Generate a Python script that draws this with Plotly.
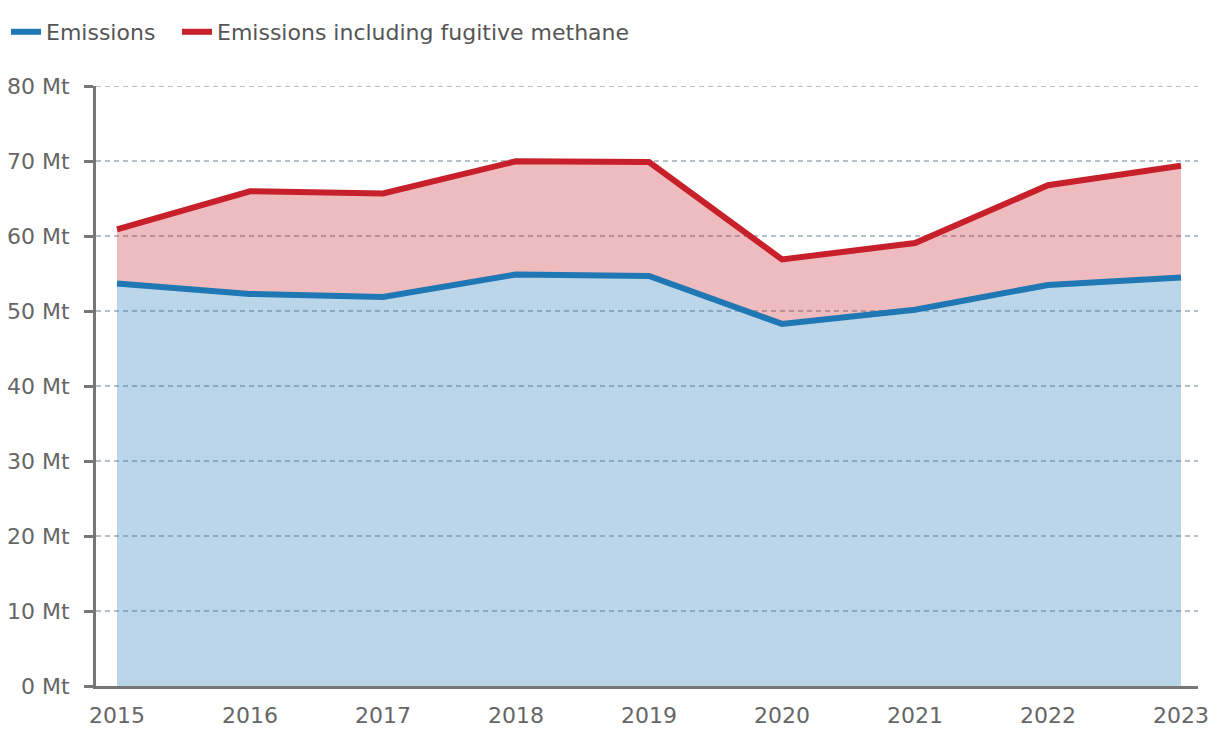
import plotly.graph_objects as go

years = [2015, 2016, 2017, 2018, 2019, 2020, 2021, 2022, 2023]
emissions = [53.7, 52.3, 51.9, 54.9, 54.7, 48.3, 50.2, 53.5, 54.5]
emissions_fugitive = [60.9, 66.0, 65.7, 70.0, 69.9, 56.9, 59.1, 66.8, 69.4]
y_ticks = [0, 10, 20, 30, 40, 50, 60, 70, 80]
y_tick_labels = [f"{v} Mt" for v in y_ticks]
x_tick_labels = [str(y) for y in years]

BLUE = "#1f77b4"
RED = "#c8202a"
FONT = "DejaVu Sans"
GRID = "#b5c1c8"

fig = go.Figure()
fig.add_trace(go.Scatter(x=years, y=emissions, fill="tozeroy", mode="lines",
                         line=dict(width=0, color=BLUE),
                         fillcolor="rgba(31,119,180,0.30)", showlegend=False, hoverinfo="skip"))
fig.add_trace(go.Scatter(x=years, y=emissions_fugitive, fill="tonexty", mode="lines",
                         line=dict(width=0, color=RED),
                         fillcolor="rgba(200,32,42,0.30)", showlegend=False, hoverinfo="skip"))
fig.add_trace(go.Scatter(x=years, y=emissions, mode="lines", name="Emissions",
                         line=dict(width=6, color=BLUE), legend="legend"))
fig.add_trace(go.Scatter(x=years, y=emissions_fugitive, mode="lines",
                         name="Emissions including fugitive methane",
                         line=dict(width=6, color=RED), legend="legend2"))

legend_common = dict(orientation="h", xref="container", xanchor="left",
                     yref="container", y=1 - 32 / 736, yanchor="middle",
                     font=dict(size=22, color="#555555", family=FONT), itemwidth=30,
                     bgcolor="rgba(0,0,0,0)")

fig.update_layout(
    width=1220, height=736,
    margin=dict(l=96, r=22, t=86, b=50, autoexpand=False),
    paper_bgcolor="white", plot_bgcolor="white",
    font=dict(family=FONT, size=20, color="#666666"),
    legend=dict(x=6 / 1220, **legend_common),
    legend2=dict(x=177 / 1220, **legend_common),
    showlegend=True,
)
# top gridline (plotly hides gridlines at the range edge)
fig.add_hline(y=y_ticks[-1], line=dict(color=GRID, width=1.5, dash="5px,4px"), layer="below")

fig.update_xaxes(
    range=[2014.842, 2023.128],
    tickmode="array", tickvals=years, ticktext=x_tick_labels,
    showgrid=False, zeroline=False,
    showline=True, linecolor="#777777", linewidth=3,
    ticks="", tickfont=dict(size=22, color="#666666"),
    ticklabelstandoff=8,
)
fig.update_yaxes(
    range=[0, 80.04],
    tickmode="array", tickvals=y_ticks, ticktext=y_tick_labels,
    showgrid=True, gridcolor=GRID, griddash="5px,4px", gridwidth=1.5,
    zeroline=False,
    showline=True, linecolor="#777777", linewidth=3,
    ticks="outside", ticklen=9, tickwidth=3, tickcolor="#777777",
    tickfont=dict(size=22, color="#666666"),
    ticklabelstandoff=10,
)

fig.write_html("out.html", config={"displayModeBar": False},
               post_script="document.body.style.margin='0';")
